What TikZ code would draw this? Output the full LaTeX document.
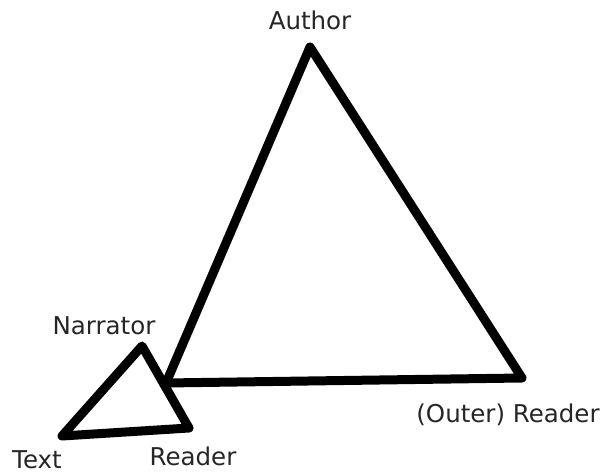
\documentclass[tikz,border=0pt]{standalone}
\usepackage{fontspec}
\setmainfont{DejaVu Sans}
\begin{document}
\begin{tikzpicture}[x=1pt,y=-1pt,
  tri/.style={line width=9pt,line join=round,draw=black},
  lbl/.style={anchor=base,inner sep=0pt,font=\fontsize{24.5}{28}\selectfont,text=black!85}]
\useasboundingbox[fill=white] (0,0) rectangle (606,473);
% big triangle
\coordinate (A) at (310,47);
\coordinate (BL) at (166,383);
\coordinate (BR) at (522,378);
% small triangle
\coordinate (N) at (142,346);
\coordinate (T) at (62,436);
\coordinate (R) at (189,428);
\draw[tri] (A) -- (BR) -- (BL) -- cycle;
\draw[tri] (N) -- (R) -- (T) -- cycle;
\node[lbl] (author) at (310,30) {Author};
\node[lbl] (narrator) at (104,335) {Narrator};
\node[lbl] (text) at (37,468) {Text};
\node[lbl] (reader) at (193,465) {Reader};
\node[lbl] (outer) at (508,423) {(Outer) Reader};
\end{tikzpicture}
\end{document}
